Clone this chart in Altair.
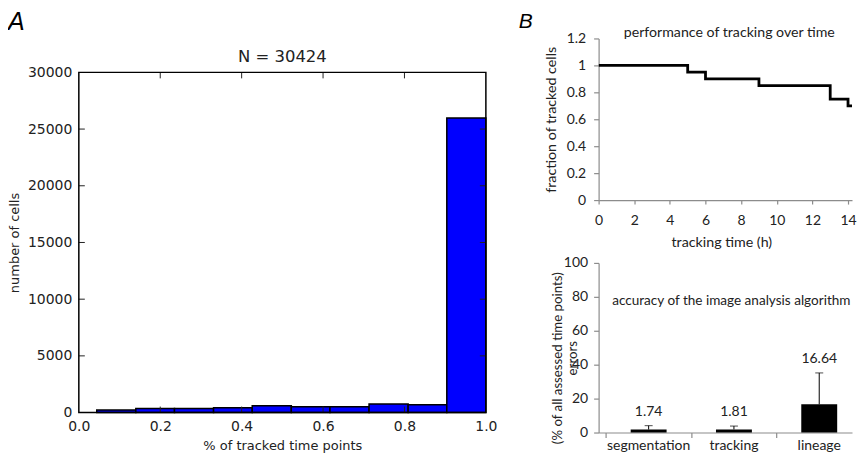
import altair as alt
import pandas as pd

# ---------------- Panel A: histogram ----------------
bin_start = [0.044, 0.140, 0.235, 0.331, 0.426, 0.522, 0.617, 0.713, 0.809, 0.904]
bin_end = [0.140, 0.235, 0.331, 0.426, 0.522, 0.617, 0.713, 0.809, 0.904, 1.0]
cell_counts = [235, 350, 350, 430, 600, 520, 520, 760, 680, 25979]
a_title = "N = 30424"
a_x_ticks = [0.0, 0.2, 0.4, 0.6, 0.8, 1.0]
a_y_ticks = [0, 5000, 10000, 15000, 20000, 25000, 30000]

# ---------------- Panel B top: tracking over time ----------------
track_time = [0, 5, 6, 9, 13, 14, 15]
tracked_fraction = [1.0, 0.95, 0.90, 0.85, 0.75, 0.70, 0.70]
b_time_ticks = [0, 2, 4, 6, 8, 10, 12, 14]
b_frac_ticks = [0, 0.2, 0.4, 0.6, 0.8, 1.0, 1.2]

# ---------------- Panel B bottom: errors ----------------
error_types = ["segmentation", "tracking", "lineage"]
error_means = [1.74, 1.81, 16.64]
error_sd = [2.3, 2.0, 18.5]
b_err_ticks = [0, 20, 40, 60, 80, 100]

AW, AH, AT = 408, 341, 34
BW1, BH1 = 254, 162
BW2, BH2 = 254, 170
BAND = 89.0  # px per category in panel B bottom

DJ = "DejaVu Sans"
LT = "Lato"
TXT = "#222222"
GR = "#8c8c8c"
FS = 14

# ---------- Panel A ----------
hist = pd.DataFrame({"start": bin_start, "end": bin_end, "count": cell_counts})
xs_a = alt.Scale(domain=[0, 1], nice=False, zero=False)
ys_a = alt.Scale(domain=[0, 30000], nice=False, range=[AT + AH, AT])

ax_xa = alt.Axis(
    values=a_x_ticks, format=".1f", domain=False, ticks=False, tickSize=0, grid=False,
    labelFont=DJ, labelFontSize=14, labelColor=TXT, labelPadding=7, labelFlush=False,
    title="% of tracked time points", titleFont=DJ, titleFontSize=13, titleFontWeight="normal",
    titleColor=TXT, titleY=33, titleBaseline="middle")
ax_ya = alt.Axis(
    values=a_y_ticks, format="d", domain=False, ticks=False, tickSize=0, grid=False,
    labelFont=DJ, labelFontSize=14, labelColor=TXT, labelPadding=7,
    title="number of cells", titleFont=DJ, titleFontSize=13, titleFontWeight="normal",
    titleColor=TXT, titleX=-64, titleY=AT + AH / 2, titleAngle=270, titleBaseline="middle",
    titleAlign="center")

bars_a = alt.Chart(hist).mark_bar(color="#0000ff", stroke="black", strokeWidth=1.5).encode(
    x=alt.X("start:Q", scale=xs_a, axis=ax_xa),
    x2="end:Q",
    y=alt.Y("count:Q", scale=ys_a, axis=ax_ya),
    y2=alt.datum(0),
)

xt = pd.DataFrame({"start": a_x_ticks[1:-1]})
yt = pd.DataFrame({"count": a_y_ticks[1:-1]})
tick_b = alt.Chart(xt).mark_rule(color=TXT, strokeWidth=1).encode(
    x=alt.X("start:Q", scale=xs_a, axis=ax_xa), y=alt.value(AT + AH), y2=alt.value(AT + AH - 6))
tick_t = alt.Chart(xt).mark_rule(color=TXT, strokeWidth=1).encode(
    x=alt.X("start:Q", scale=xs_a, axis=ax_xa), y=alt.value(AT), y2=alt.value(AT + 6))
tick_l = alt.Chart(yt).mark_rule(color=TXT, strokeWidth=1).encode(
    y=alt.Y("count:Q", scale=ys_a, axis=ax_ya), x=alt.value(0), x2=alt.value(6))
tick_r = alt.Chart(yt).mark_rule(color=TXT, strokeWidth=1).encode(
    y=alt.Y("count:Q", scale=ys_a, axis=ax_ya), x=alt.value(AW), x2=alt.value(AW - 6))

one = pd.DataFrame({"k": [0]})
frame_a = alt.Chart(one).mark_rect(fillOpacity=0, stroke="black", strokeWidth=1.5).encode(
    x=alt.value(0), x2=alt.value(AW), y=alt.value(AT), y2=alt.value(AT + AH))
title_a = alt.Chart(one).mark_text(text=a_title, font=DJ, fontSize=16.5, color=TXT,
                                   align="center", baseline="middle").encode(
    x=alt.value(AW / 2), y=alt.value(AT - 15))
letter_a = alt.Chart(one).mark_text(text="A", font="Liberation Sans", fontStyle="italic",
                                    fontSize=25, color="black", align="left",
                                    baseline="alphabetic").encode(
    x=alt.value(-71), y=alt.value(AT - 42.5))

panel_a = alt.layer(bars_a, tick_b, tick_t, tick_l, tick_r, frame_a, title_a, letter_a).properties(
    width=AW, height=AT + AH)

# ---------- Panel B top ----------
track = pd.DataFrame({"t": track_time, "f": tracked_fraction})
px_per_h = 250.0 / 14.0
line_b = alt.Chart(track).mark_line(color="black", strokeWidth=2.8, interpolate="step-after",
                                    clip=True).encode(
    x=alt.X("t:Q", scale=alt.Scale(domain=[0, BW1 / px_per_h], nice=False, zero=False,
                                   clamp=True),
            axis=alt.Axis(
        values=b_time_ticks, format="d", domainColor=GR, domainWidth=1.2, tickColor=GR,
        tickSize=4, tickWidth=1.2, grid=False, labelFont=LT, labelFontSize=FS, labelColor=TXT,
        labelPadding=9, labelFlush=False,
        title="tracking time (h)", titleFont=LT, titleFontSize=14.3, titleFontWeight="normal",
        titleColor=TXT, titleX=123, titleY=43, titleBaseline="middle")),
    y=alt.Y("f:Q", scale=alt.Scale(domain=[0, 1.2], nice=False), axis=alt.Axis(
        values=b_frac_ticks, format="~g", domainColor=GR, domainWidth=1.2, tickColor=GR,
        tickSize=5, tickWidth=1.2, grid=False, labelFont=LT, labelFontSize=FS, labelColor=TXT,
        labelPadding=8,
        title="fraction of tracked cells", titleFont=LT, titleFontSize=14.3,
        titleFontWeight="normal", titleColor=TXT, titleX=-47, titleY=BH1 / 2, titleAngle=270,
        titleBaseline="middle", titleAlign="center")),
)
title_b1 = alt.Chart(one).mark_text(text="performance of tracking over time", font=LT,
                                    fontSize=14.2, color=TXT, align="center",
                                    baseline="middle").encode(
    x=alt.value(131), y=alt.value(-5))
letter_b = alt.Chart(one).mark_text(text="B", font="Liberation Sans", fontStyle="italic",
                                    fontSize=21, color="black", align="left",
                                    baseline="alphabetic").encode(
    x=alt.value(-80), y=alt.value(-10))
panel_b1 = alt.layer(line_b, title_b1, letter_b).properties(width=BW1, height=BH1)

# ---------- Panel B bottom ----------
err = pd.DataFrame({"type": error_types, "mean": error_means, "sd": error_sd})
err["pos"] = [i + 0.5 for i in range(len(error_types))]
err["upper"] = err["mean"] + err["sd"]
err["label"] = [f"{m:.2f}" for m in error_means]

x0 = -2.5 / BAND
xs_b = alt.Scale(domain=[x0, x0 + BW2 / BAND], nice=False, zero=False)
ax_xb = alt.Axis(values=[0, 1, 2], labels=False, domainColor=GR, domainWidth=1.2,
                 tickColor=GR, tickSize=5, tickWidth=1.2, grid=False, title=None)
ax_yb = alt.Axis(
    values=b_err_ticks, format="d", domainColor=GR, domainWidth=1.2, tickColor=GR,
    tickSize=5, tickWidth=1.2, grid=False, labelFont=LT, labelFontSize=FS, labelColor=TXT,
    labelPadding=6,
    title=["(% of all assessed time points)", "errors"], titleFont=LT, titleFontSize=13.3,
    titleFontWeight="normal", titleColor=TXT, titleX=-41, titleY=95, titleAngle=270,
    titleBaseline="middle", titleAlign="center", titleLineHeight=15)
yscale_b = alt.Scale(domain=[0, 100], nice=False)

def xenc():
    return alt.X("pos:Q", scale=xs_b, axis=ax_xb)

bars_b = alt.Chart(err).mark_bar(color="black", width=36).encode(
    x=xenc(), y=alt.Y("mean:Q", scale=yscale_b, axis=ax_yb), y2=alt.datum(0))
rule_b = alt.Chart(err).mark_rule(color="black", strokeWidth=1).encode(
    x=xenc(), y=alt.Y("mean:Q", scale=yscale_b, axis=ax_yb), y2="upper:Q")
cap_b = alt.Chart(err).mark_tick(color="black", size=8, thickness=1, orient="horizontal").encode(
    x=xenc(), y=alt.Y("upper:Q", scale=yscale_b, axis=ax_yb))
text_b = alt.Chart(err).mark_text(font=LT, fontSize=FS, color=TXT, baseline="bottom",
                                  dy=-7).encode(
    x=xenc(), y=alt.Y("upper:Q", scale=yscale_b, axis=ax_yb), text="label:N")
cat_b = alt.Chart(err).mark_text(font=LT, fontSize=FS, color=TXT, baseline="middle").encode(
    x=xenc(), y=alt.value(BH2 + 13.5), text="type:N")
title_b2 = alt.Chart(one).mark_text(text="accuracy of the image analysis algorithm", font=LT,
                                    fontSize=13.6, color=TXT, align="center",
                                    baseline="middle").encode(
    x=alt.value(133), y=alt.value(38))
panel_b2 = alt.layer(bars_b, rule_b, cap_b, text_b, cat_b, title_b2).properties(
    width=BW2, height=BH2)

col_b = alt.vconcat(panel_b1, panel_b2, spacing=63, bounds="flush")

chart = alt.hconcat(panel_a, col_b, spacing=113, bounds="flush").properties(
    padding={"left": 0, "top": 1, "right": 0, "bottom": 0},
    background="white",
).configure_view(strokeWidth=0)

chart.save("out.html", embed_options={"renderer": "svg", "actions": False})
